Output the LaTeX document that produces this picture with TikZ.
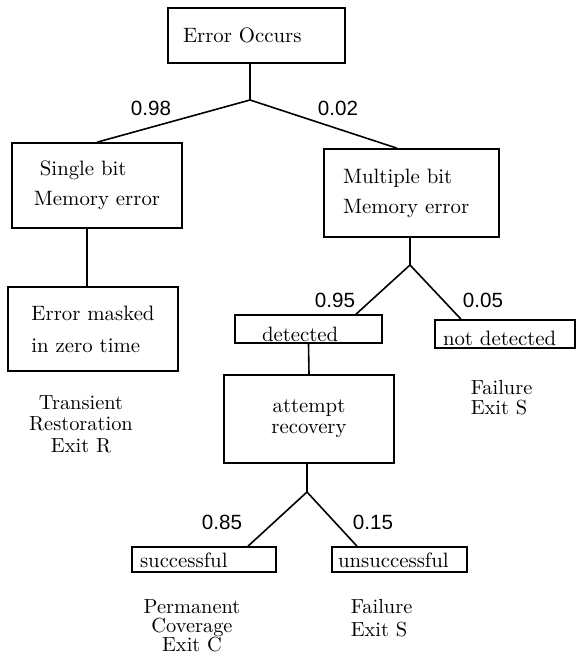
\documentclass[tikz,border=0pt]{standalone}
\usepackage{fontspec}
\newfontfamily\numfont{Liberation Sans}
\begin{document}
\begin{tikzpicture}[x=0.5pt,y=-0.5pt,line width=0.8pt,
  box/.style={draw,inner sep=0pt,font=\fontsize{10.4}{15}\selectfont},
  tag/.style={draw,inner ysep=0pt,align=left,font=\fontsize{10.4}{12}\selectfont},
  prob/.style={inner sep=0pt,font=\numfont\fontsize{10.3}{12}\selectfont},
  exitlbl/.style={inner sep=0pt,font=\fontsize{10.2}{10.8}\selectfont}]
\useasboundingbox (0,0) rectangle (577,664);

% event boxes
\node[box,minimum width=88.5pt,minimum height=27.5pt,text width=73.5pt,
      inner xsep=7.5pt,align=left] (occurs) at (256.5,35.5) {Error Occurs};
\node[box,minimum width=85pt,minimum height=42.5pt,align=left]
      (single) at (97,185.5) {\hspace*{3pt}Single bit\\Memory error};
\node[box,minimum width=85pt,minimum height=42pt,align=left,
      font=\fontsize{10.4}{16}\selectfont] (masked) at (93,329) {Error masked\\in zero time};
\node[box,minimum width=87.5pt,minimum height=44pt,text width=68.5pt,
      inner xsep=9.5pt,align=left] (multiple) at (411.5,193) {Multiple bit\\Memory error};
\node[box,minimum width=85pt,minimum height=44pt,align=center,
      font=\fontsize{10.4}{10.5}\selectfont] (attempt) at (309,419) {attempt\\recovery};

% outcome tags
\node[tag,inner xsep=13.5pt,text width=46.5pt,text height=13pt,text depth=1pt]
      (detected) at (308.5,329) {detected};
\node[tag,inner xsep=4pt,text width=62pt,text height=12.5pt,text depth=1.5pt]
      (notdet) at (505,334) {not detected};
\node[tag,inner xsep=4pt,text width=64pt,text height=10pt,text depth=2.5pt]
      (successful) at (204,559.5) {successful};
\node[tag,inner xsep=3pt,text width=61.5pt,text height=10pt,text depth=2.5pt]
      (unsuccessful) at (399.5,559.5) {unsuccessful};

% branch points
\coordinate (f1) at (250,100);
\coordinate (f2) at (410,265);
\coordinate (f3) at (307,492);

% connectors
\draw (occurs.south -| f1) -- (f1);
\draw (f1) -- (single.north);
\draw (f1) -- ([xshift=-7.25pt]multiple.north);
\draw ([xshift=-5pt]single.south) -- ([xshift=-3pt]masked.north);
\draw (multiple.south -| f2) -- (f2);
\draw (f2) -- ([xshift=23.75pt]detected.north);
\draw (f2) -- ([xshift=-22pt]notdet.north);
\draw (detected.south) -- (attempt.north);
\draw (attempt.south -| f3) -- (f3);
\draw (f3) -- ([xshift=22pt]successful.north);
\draw (f3) -- ([xshift=-21.25pt]unsuccessful.north);

% branch probabilities
\node[prob] (p98) at (151,108) {0.98};
\node[prob] (p02) at (338,108) {0.02};
\node[prob] (p95) at (335,300) {0.95};
\node[prob] (p05) at (483,300) {0.05};
\node[prob] (p85) at (222,522) {0.85};
\node[prob] (p15) at (373,522) {0.15};

% exits
\node[exitlbl,align=center] (exitR) at (81,424) {Transient\\Restoration\\Exit R};
\node[exitlbl,align=left,anchor=west,font=\fontsize{10.2}{10}\selectfont]
      (exitS1) at (470,397.5) {Failure\\Exit S};
\node[exitlbl,align=center,font=\fontsize{10.2}{9.5}\selectfont]
      (exitC) at (192,626) {Permanent\\Coverage\\Exit C};
\node[exitlbl,align=left,anchor=west,font=\fontsize{10.2}{11.5}\selectfont]
      (exitS2) at (350,618.5) {Failure\\Exit S};
\end{tikzpicture}
\end{document}
